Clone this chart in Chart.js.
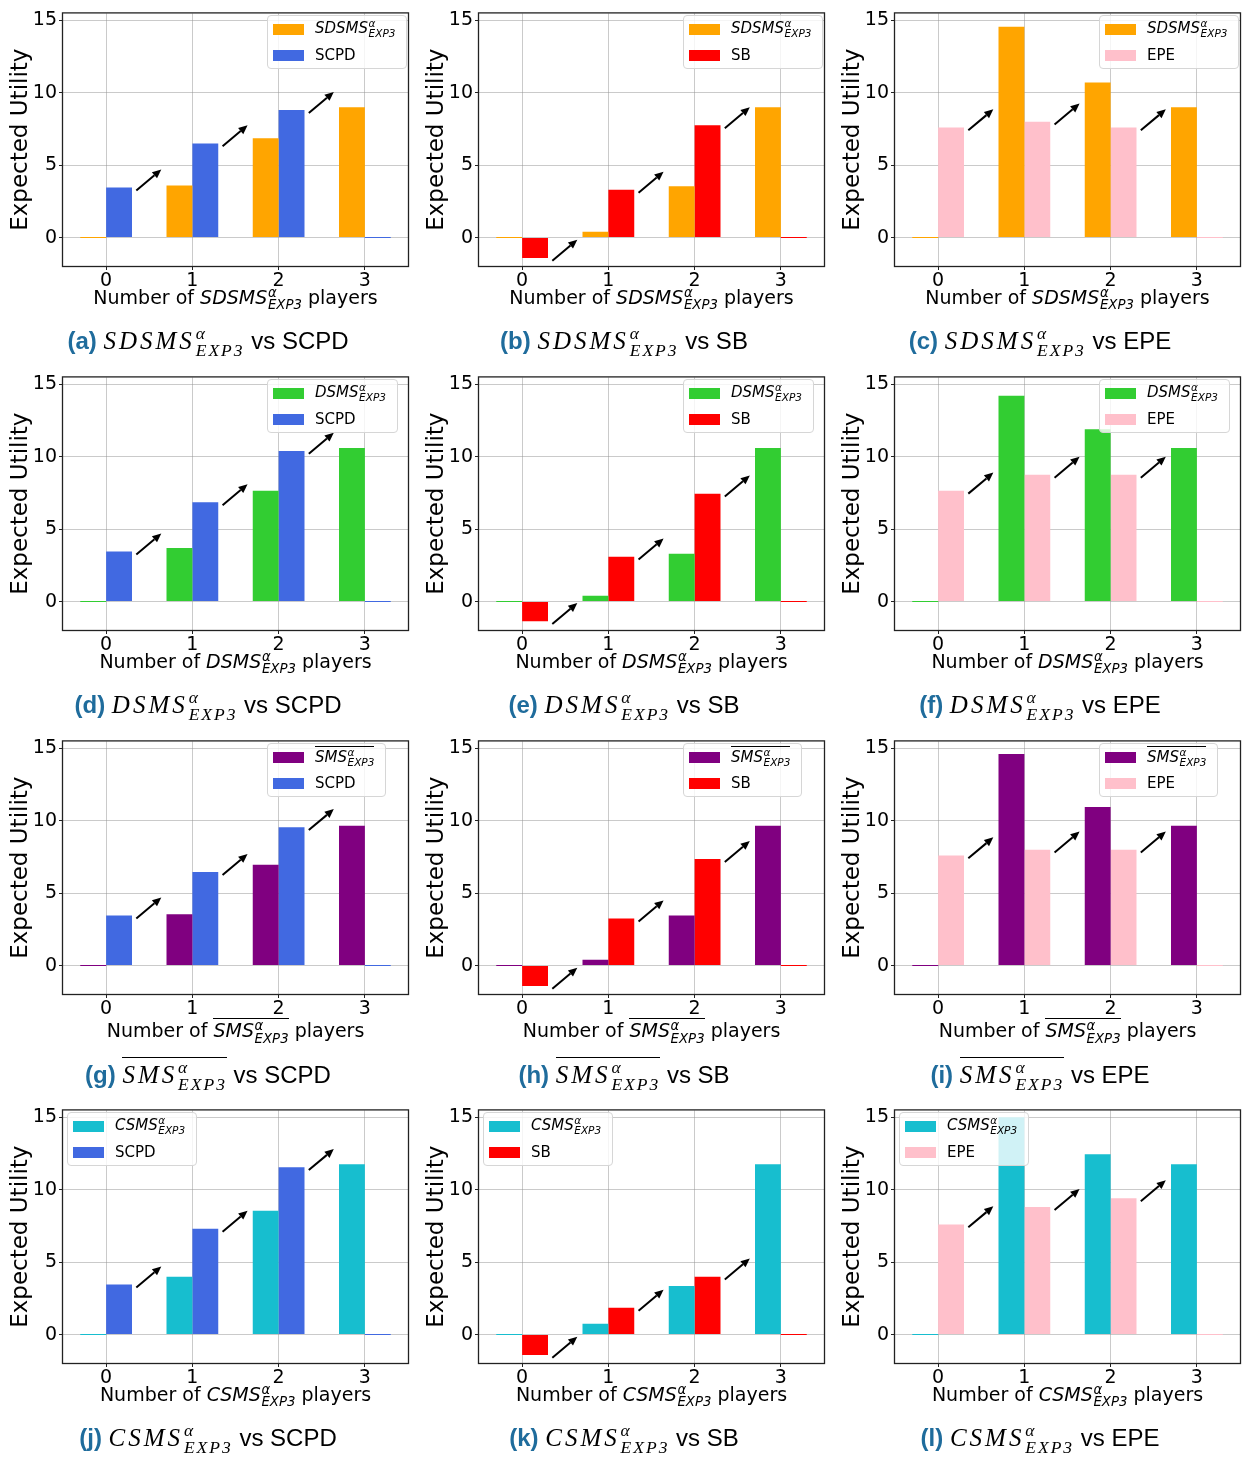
<!DOCTYPE html>
<html>
<head>
<meta charset="utf-8">
<title>Expected utility vs number of players</title>
<script src="https://cdn.jsdelivr.net/npm/chart.js@4.4.1/dist/chart.umd.min.js"></script>
<style>
  body { margin: 0; background: #fff; }
  #fig { position: relative; width: 1256px; height: 1457px; overflow: hidden; font-family: "DejaVu Sans", sans-serif; color: #000; }
  .box { position: absolute; width: 412px; height: 296px; }
  .leg { position: absolute; background: rgba(255,255,255,0.8); border: 1px solid #d6d6d6; border-radius: 4px; padding: 0 11px 0 0; font-size: 15px; z-index: 2; }
  .leg .row { display: flex; align-items: center; height: 26px; white-space: nowrap; }
  .leg .sw { width: 31px; height: 11px; margin: 0 11px 0 5px; flex: none; }
  .xl { position: absolute; width: 345px; text-align: center; font-size: 19px; white-space: nowrap; line-height: 1.2; }
  .cap { position: absolute; width: 416px; text-align: center; font-family: "Liberation Sans", Arial, sans-serif; font-size: 24px; white-space: nowrap; line-height: 1.2; }
  .cap b { color: #1f6c9c; }
  .m { display: inline-block; white-space: nowrap; font-style: italic; line-height: 1.1; }
  .m .s { display: inline-block; font-size: 0.7em; line-height: 0.95em; vertical-align: -0.4em; text-align: left; margin-left: 0.05em; }
  .m .s span { display: block; }
  .m.ov { border-top: 1.3px solid #000; padding-top: 1px; }
  .cm { font-family: "Liberation Serif", serif; letter-spacing: 3px; font-size: 25px; }
  .cm .s { letter-spacing: 2px; }
</style>
</head>
<body>
<div id="fig"></div>
<script>
const players = ['0', '1', '2', '3'];
const yTicks = [0, 5, 10, 15];

// SDSMS panels (a)-(c)
const sdsmsVsScpd = [0, 3.6, 6.85, 9.0];
const scpdVsSdsms = [3.45, 6.5, 8.8, 0];
const sdsmsVsSb = [0, 0.4, 3.55, 9.0];
const sbVsSdsms = [-1.4, 3.3, 7.75, 0];
const sdsmsVsEpe = [0, 14.55, 10.7, 9.0];
const epeVsSdsms = [7.6, 8.0, 7.6, 0];

// DSMS panels (d)-(f)
const dsmsVsScpd = [0, 3.7, 7.65, 10.6];
const scpdVsDsms = [3.45, 6.85, 10.4, 0];
const dsmsVsSb = [0, 0.4, 3.3, 10.6];
const sbVsDsms = [-1.35, 3.1, 7.45, 0];
const dsmsVsEpe = [0, 14.2, 11.9, 10.6];
const epeVsDsms = [7.65, 8.75, 8.75, 0];

// SMS (overlined) panels (g)-(i)
const smsVsScpd = [0, 3.55, 6.95, 9.65];
const scpdVsSms = [3.45, 6.45, 9.55, 0];
const smsVsSb = [0, 0.4, 3.45, 9.65];
const sbVsSms = [-1.4, 3.25, 7.35, 0];
const smsVsEpe = [0, 14.6, 10.95, 9.65];
const epeVsSms = [7.6, 8.0, 8.0, 0];

// CSMS panels (j)-(l)
const csmsVsScpd = [0, 4.0, 8.55, 11.75];
const scpdVsCsms = [3.45, 7.3, 11.55, 0];
const csmsVsSb = [0, 0.75, 3.35, 11.75];
const sbVsCsms = [-1.4, 1.85, 4.0, 0];
const csmsVsEpe = [0, 15.0, 12.45, 11.75];
const epeVsCsms = [7.6, 8.8, 9.4, 0];

const COLORS = {
    SDSMS: '#ffa500', DSMS: '#32cd32', SMS: '#800080', CSMS: '#17becf',
    SCPD: '#4169e1', SB: '#ff0000', EPE: '#ffc0cb'
};

const rows = [
    { name: 'SDSMS', bar: false, sets: [[sdsmsVsScpd, scpdVsSdsms], [sdsmsVsSb, sbVsSdsms], [sdsmsVsEpe, epeVsSdsms]] },
    { name: 'DSMS', bar: false, sets: [[dsmsVsScpd, scpdVsDsms], [dsmsVsSb, sbVsDsms], [dsmsVsEpe, epeVsDsms]] },
    { name: 'SMS', bar: true, sets: [[smsVsScpd, scpdVsSms], [smsVsSb, sbVsSms], [smsVsEpe, epeVsSms]] },
    { name: 'CSMS', bar: false, sets: [[csmsVsScpd, scpdVsCsms], [csmsVsSb, sbVsCsms], [csmsVsEpe, epeVsCsms]] }
];
const opponents = ['SCPD', 'SB', 'EPE'];
const letters = 'abcdefghijkl';

const colLeft = [0, 416, 832];
const rowTop = [8, 372, 736, 1105];
const gridColor = 'rgba(150,150,150,0.5)';

Chart.defaults.font.family = '"DejaVu Sans", sans-serif';

function mathLabel(name, bar, cls) {
    return `<span class="m${bar ? ' ov' : ''}${cls ? ' ' + cls : ''}">${name}<span class="s"><span>α</span><span>EXP3</span></span></span>`;
}

// arrows between consecutive groups, anchored on the opponent bar height
const arrowPlugin = {
    id: 'arrows',
    afterDraw(chart) {
        const ctx = chart.ctx;
        const xs = chart.scales.x, ys = chart.scales.y;
        const vals = chart.data.datasets[1].data;
        const unit = xs.getPixelForValue(1) - xs.getPixelForValue(0);
        ctx.save();
        ctx.strokeStyle = '#000';
        ctx.fillStyle = '#000';
        ctx.lineWidth = 2;
        for (let i = 0; i < vals.length - 1; i++) {
            const x0 = xs.getPixelForValue(i) + 0.35 * unit;
            const y0 = ys.getPixelForValue(vals[i] - 0.2);
            const x1 = xs.getPixelForValue(i) + 0.64 * unit;
            const y1 = ys.getPixelForValue(vals[i] + 1.25);
            const ang = Math.atan2(y1 - y0, x1 - x0);
            const hl = 9, hw = 4;
            const bx = x1 - hl * Math.cos(ang), by = y1 - hl * Math.sin(ang);
            ctx.beginPath();
            ctx.moveTo(x0, y0);
            ctx.lineTo(bx, by);
            ctx.stroke();
            ctx.beginPath();
            ctx.moveTo(x1, y1);
            ctx.lineTo(bx + hw * Math.sin(ang), by - hw * Math.cos(ang));
            ctx.lineTo(bx - hw * Math.sin(ang), by + hw * Math.cos(ang));
            ctx.closePath();
            ctx.fill();
        }
        // axes frame
        const a = chart.chartArea;
        ctx.strokeStyle = '#222';
        ctx.lineWidth = 1.3;
        ctx.strokeRect(a.left - 0.5, a.top - 0.5, a.right - a.left + 1, a.bottom - a.top + 1);
        ctx.restore();
    }
};

const fig = document.getElementById('fig');

rows.forEach((row, r) => {
    row.sets.forEach(([mainVals, otherVals], c) => {
        const other = opponents[c];
        const left = colLeft[c], axTop = rowTop[r];
        const axBottom = axTop + 258;
        const shift = row.bar ? 4 : 0;

        const box = document.createElement('div');
        box.className = 'box';
        box.style.left = left + 'px';
        box.style.top = (axTop - 8) + 'px';
        const canvas = document.createElement('canvas');
        canvas.width = 412;
        canvas.height = 296;
        box.appendChild(canvas);
        fig.appendChild(box);

        new Chart(canvas, {
            type: 'bar',
            data: {
                labels: players,
                datasets: [
                    { label: row.name, data: mainVals, backgroundColor: COLORS[row.name], categoryPercentage: 0.6, barPercentage: 1, minBarLength: 1 },
                    { label: other, data: otherVals, backgroundColor: COLORS[other], categoryPercentage: 0.6, barPercentage: 1, minBarLength: 1 }
                ]
            },
            options: {
                responsive: false,
                animation: false,
                layout: { padding: { top: 8, right: 4, left: 0, bottom: 0 } },
                plugins: { legend: { display: false }, tooltip: { enabled: false } },
                scales: {
                    x: {
                        z: 1,
                        offset: true,
                        grid: { offset: false, color: gridColor, tickColor: '#222', tickLength: 4 },
                        border: { display: false },
                        ticks: { font: { size: 19 }, color: '#000', padding: 0, maxRotation: 0 },
                        afterFit: s => { s.height = 30; }
                    },
                    y: {
                        z: 1,
                        min: -1.96,
                        max: 15.47,
                        afterBuildTicks: s => { s.ticks = yTicks.map(v => ({ value: v })); },
                        grid: { color: gridColor, tickColor: '#222', tickLength: 4 },
                        border: { display: false },
                        ticks: { font: { size: 19 }, color: '#000', padding: 2 },
                        title: { display: true, text: 'Expected Utility', font: { size: 23 }, color: '#000', padding: { top: 7, bottom: 0 } },
                        afterFit: s => { s.width = 63; }
                    }
                }
            },
            plugins: [arrowPlugin]
        });

        // legend: upper left of the bottom row, otherwise fixed near the top right
        const leg = document.createElement('div');
        leg.className = 'leg';
        leg.innerHTML =
            `<div class="row"><span class="sw" style="background:${COLORS[row.name]}"></span>${mathLabel(row.name, row.bar)}</div>` +
            `<div class="row"><span class="sw" style="background:${COLORS[other]}"></span>${other}</div>`;
        leg.style.top = (axTop + 7) + 'px';
        leg.style.left = (left + (r === 3 ? 67 : 267)) + 'px';
        fig.appendChild(leg);

        // x axis label
        const xl = document.createElement('div');
        xl.className = 'xl';
        xl.style.left = (left + 63) + 'px';
        xl.style.top = (axBottom + 20 + shift) + 'px';
        xl.innerHTML = `Number of ${mathLabel(row.name, row.bar)} players`;
        fig.appendChild(xl);

        // caption
        const cap = document.createElement('div');
        cap.className = 'cap';
        cap.style.left = left + 'px';
        cap.style.top = (axBottom + 59 + shift) + 'px';
        cap.innerHTML = `<b>(${letters[r * 3 + c]})</b> ${mathLabel(row.name, row.bar, 'cm')} vs ${other}`;
        fig.appendChild(cap);
    });
});
</script>
</body>
</html>
